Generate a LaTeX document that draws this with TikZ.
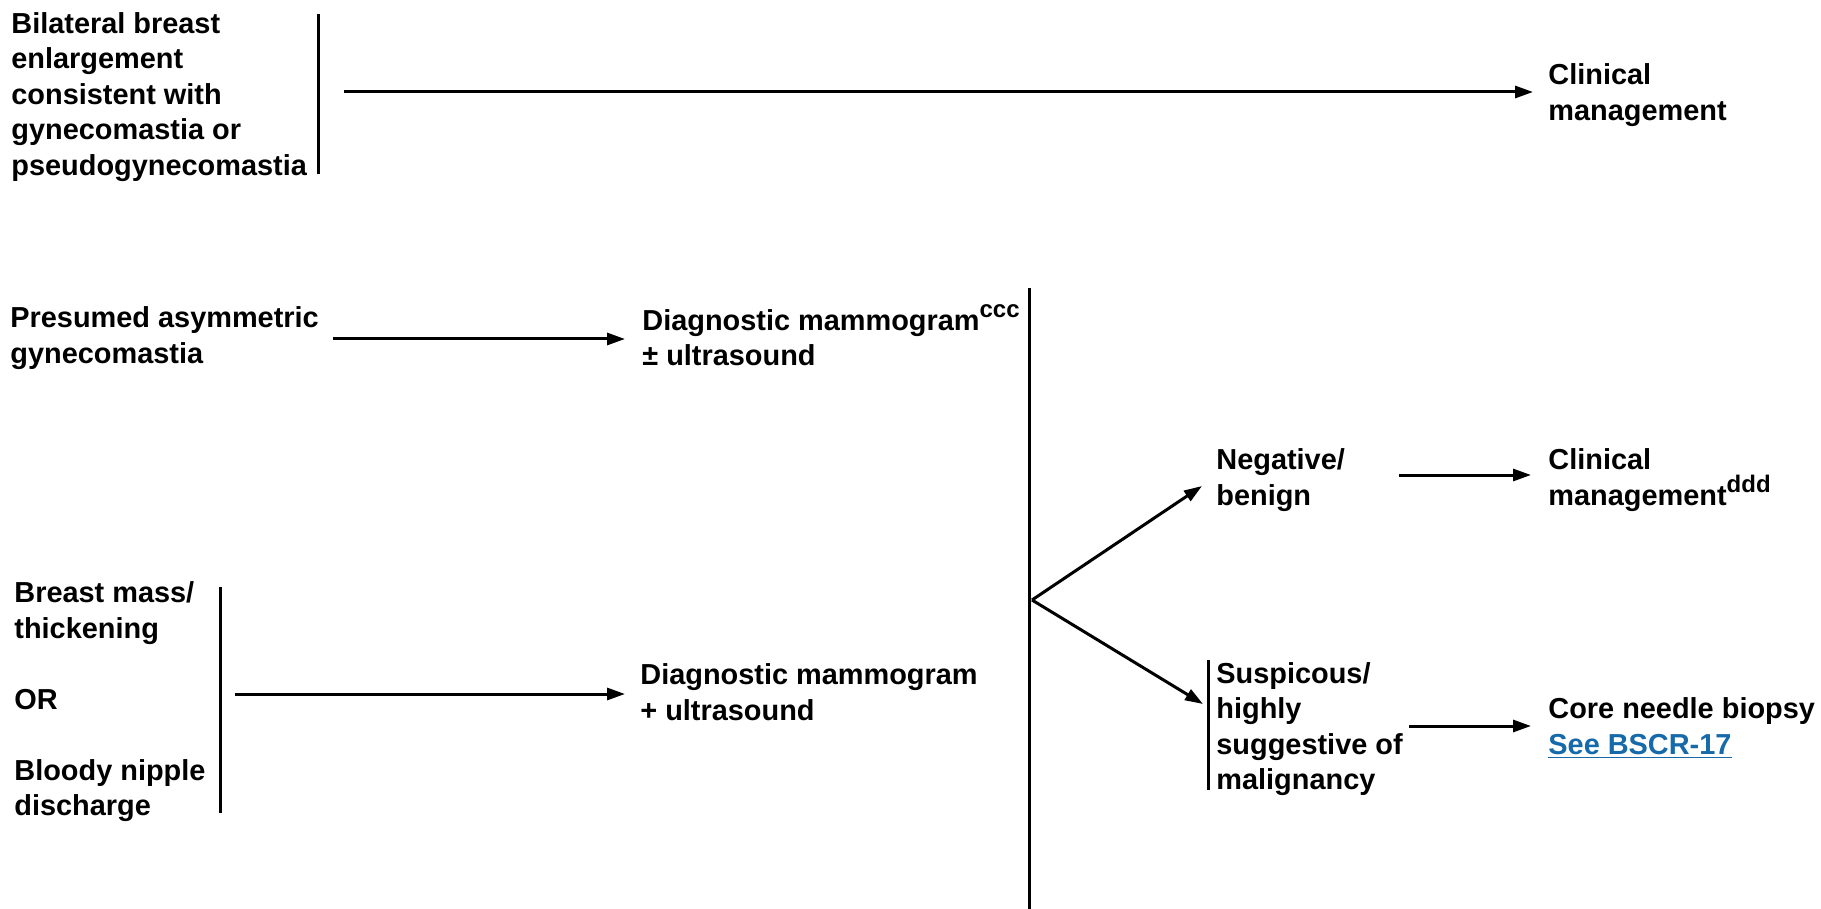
\documentclass[tikz,border=0pt]{standalone}
\usepackage{fontspec}
\usepackage{graphicx}
\setmainfont{Liberation Sans}
\usetikzlibrary{arrows.meta}
\definecolor{linkblue}{RGB}{22,106,170}
\newcommand{\mysup}[1]{\raisebox{6.5pt}{\fontsize{12}{12}\selectfont #1}}
\begin{document}
\begin{tikzpicture}[x=0.5pt,y=-0.5pt,
  txt/.style={font=\bfseries\fontsize{14.45}{17.75}\selectfont, align=left, inner sep=0pt, anchor=west},
  bar/.style={line width=1.5pt},
  arr/.style={line width=1.5pt, -{Triangle[length=9pt,width=6pt]}}]
\useasboundingbox (0,0) rectangle (1821,909);
% text nodes
\node[txt] (bil) at (11,97) {Bilateral breast\\enlargement\\consistent with\\gynecomastia or\\pseudogynecomastia};
\node[txt] (cm1) at (1548,95) {Clinical\\management};
\node[txt] (pre) at (10,338) {Presumed asymmetric\\gynecomastia};
\node[txt] (dg1) at (642,335) {Diagnostic mammogram\mysup{ccc}\\± ultrasound};
\node[txt] (neg) at (1216,480) {Negative/\\benign};
\node[txt] (cm2) at (1548,480) {Clinical\\management\mysup{ddd}};
\node[txt] (sus) at (1216,729) {Suspicous/\\highly\\suggestive of\\malignancy};
\node[txt] (core) at (1548,728) {Core needle biopsy\\\textcolor{linkblue}{\underline{See BSCR-17}}};
\node[txt] (bm) at (14,702) {Breast mass/\\thickening\\[17.75pt]OR\\[17.75pt]Bloody nipple\\discharge};
\node[txt] (dg2) at (640,692) {Diagnostic mammogram\\+ ultrasound};
% bars
\coordinate (b1t) at (318,14);   \coordinate (b1b) at (318,174);
\coordinate (b2t) at (1029,288); \coordinate (b2b) at (1029,909);
\coordinate (b3t) at (220,587);  \coordinate (b3b) at (220,813);
\coordinate (b4t) at (1208,660); \coordinate (b4b) at (1208,790);
\draw[bar] (b1t) -- (b1b);
\draw[bar] (b2t) -- (b2b);
\draw[bar] (b3t) -- (b3b);
\draw[bar] (b4t) -- (b4b);
% arrow starts
\coordinate (a1) at (344,92);
\coordinate (a2) at (333,339);
\coordinate (a3) at (235,694);
\coordinate (br) at (1032,600);
\coordinate (t1) at (1202,486);
\coordinate (t2) at (1203,704);
\coordinate (a4) at (1399,475);
\coordinate (a5) at (1409,726);
% arrows
\draw[arr, shorten >=7.5pt] (a1) -- (a1 -| cm1.west);
\draw[arr, shorten >=8.5pt] (a2) -- (a2 -| dg1.west);
\draw[arr, shorten >=7.5pt] (a3) -- (a3 -| dg2.west);
\draw[arr] (br) -- (t1);
\draw[arr] (br) -- (t2);
\draw[arr, shorten >=8.5pt] (a4) -- (a4 -| cm2.west);
\draw[arr, shorten >=8.5pt] (a5) -- (a5 -| core.west);
\end{tikzpicture}
\end{document}
